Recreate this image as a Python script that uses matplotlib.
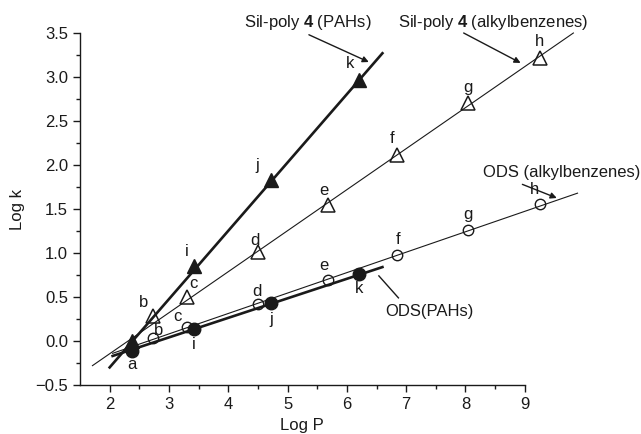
import matplotlib
matplotlib.use("Agg")
import matplotlib.pyplot as plt
from matplotlib.ticker import FuncFormatter

plt.rcParams['font.family'] = ['Liberation Sans', 'DejaVu Sans']
plt.rcParams['mathtext.fontset'] = 'custom'
plt.rcParams['mathtext.rm'] = 'Liberation Sans'
plt.rcParams['mathtext.bf'] = 'Liberation Sans:bold'

# ---- data ----
pah_labels = ['a', 'i', 'j', 'k']
pah_logp = [2.38, 3.42, 4.72, 6.21]
silpoly_pah_logk = [0.00, 0.85, 1.83, 2.97]
ods_pah_logk = [-0.11, 0.14, 0.43, 0.76]

alk_labels = ['a', 'b', 'c', 'd', 'e', 'f', 'g', 'h']
alk_logp = [2.38, 2.73, 3.30, 4.50, 5.68, 6.85, 8.05, 9.25]
silpoly_alk_logk = [0.00, 0.28, 0.50, 1.01, 1.55, 2.11, 2.70, 3.22]
ods_alk_logk = [-0.11, 0.03, 0.16, 0.42, 0.69, 0.98, 1.26, 1.56]

# regression lines (end points)
fit_silpoly_pah_x = [2.00, 6.60]
fit_silpoly_pah_y = [-0.30, 3.27]
fit_silpoly_alk_x = [1.71, 9.82]
fit_silpoly_alk_y = [-0.28, 3.50]
fit_ods_alk_x = [2.05, 9.89]
fit_ods_alk_y = [-0.14, 1.68]
fit_ods_pah_x = [2.05, 6.60]
fit_ods_pah_y = [-0.17, 0.84]

xticks = [2, 3, 4, 5, 6, 7, 8, 9]
yticks = [-0.5, 0.0, 0.5, 1.0, 1.5, 2.0, 2.5, 3.0, 3.5]

# ---- figure ----
W, H = 641, 434
fig = plt.figure(figsize=(W / 100, H / 100), dpi=100)
ax = fig.add_axes([80 / W, 49 / H, 561 / W, 385 / H])
ax.set_xlim(1.5, 1.5 + 561 / 59.3)
ax.set_ylim(-0.5, -0.5 + 385 / 88)

ink = '#1a1a1a'
ax.plot(fit_silpoly_alk_x, fit_silpoly_alk_y, color=ink, lw=0.8, zorder=2)
ax.plot(fit_ods_alk_x, fit_ods_alk_y, color=ink, lw=0.8, zorder=2)
ax.plot(fit_silpoly_pah_x, fit_silpoly_pah_y, color=ink, lw=1.9, zorder=2)
ax.plot(fit_ods_pah_x, fit_ods_pah_y, color=ink, lw=1.9, zorder=2)

ax.plot(alk_logp[1:], silpoly_alk_logk[1:], ls='none', marker='^', ms=10,
        mfc='none', mec=ink, mew=1.1, zorder=3)
ax.plot(alk_logp[1:], ods_alk_logk[1:], ls='none', marker='o', ms=7.5,
        mfc='none', mec=ink, mew=1.0, zorder=3)
ax.plot(pah_logp, silpoly_pah_logk, ls='none', marker='^', ms=10,
        mfc=ink, mec=ink, zorder=4)
ax.plot(pah_logp, ods_pah_logk, ls='none', marker='o', ms=9,
        mfc=ink, mec=ink, zorder=4)

# point labels (offsets in pixels)
fs = 12
pt = 0.72
off_sp_pah = {'i': (-7, 15), 'j': (-14, 14), 'k': (-9, 16)}
off_ods_pah = {'a': (0, -14), 'i': (0, -16), 'j': (0, -16), 'k': (0, -14)}
off_sp_alk = {'b': (-9, 14), 'c': (7, 13), 'd': (-3, 12), 'e': (-4, 14),
              'f': (-5, 17), 'g': (0, 16), 'h': (0, 16)}
off_ods_alk = {'b': (6, 8), 'c': (-9, 10), 'd': (-1, 13), 'e': (-4, 15),
               'f': (1, 15), 'g': (0, 16), 'h': (-5, 14)}


def label_points(labels, xs, ys, offs):
    for lab, x, y in zip(labels, xs, ys):
        if lab in offs:
            dx, dy = offs[lab]
            ax.annotate(lab, (x, y), xytext=(dx * pt, dy * pt),
                        textcoords='offset points', ha='center', va='center',
                        fontsize=fs, color=ink)


label_points(pah_labels, pah_logp, silpoly_pah_logk, off_sp_pah)
label_points(pah_labels, pah_logp, ods_pah_logk, off_ods_pah)
label_points(alk_labels, alk_logp, silpoly_alk_logk, off_sp_alk)
label_points(alk_labels, alk_logp, ods_alk_logk, off_ods_alk)

# series annotations
arrow = dict(arrowstyle='-|>', color=ink, lw=1.0, mutation_scale=9,
             shrinkA=0, shrinkB=0)
ax.text(4.26, 3.625, r'Sil-poly $\mathbf{4}$ (PAHs)', fontsize=fs,
        ha='left', va='center', color=ink)
ax.annotate('', xy=(6.37, 3.17), xytext=(5.36, 3.48), arrowprops=arrow)
ax.text(6.86, 3.625, r'Sil-poly $\mathbf{4}$ (alkylbenzenes)', fontsize=fs,
        ha='left', va='center', color=ink)
ax.annotate('', xy=(8.93, 3.16), xytext=(7.97, 3.50), arrowprops=arrow)
ax.text(8.30, 1.92, 'ODS (alkylbenzenes)', fontsize=fs,
        ha='left', va='center', color=ink)
ax.annotate('', xy=(9.54, 1.625), xytext=(8.96, 1.78), arrowprops=arrow)
ax.text(6.65, 0.33, 'ODS(PAHs)', fontsize=fs, ha='left', va='center',
        color=ink)
ax.plot([6.87, 6.54], [0.49, 0.74], color=ink, lw=1.0)

# axes styling
for s in ['top', 'right']:
    ax.spines[s].set_visible(False)
ax.spines['left'].set_bounds(-0.5, 3.5)
ax.spines['bottom'].set_bounds(1.5, 9)
for s in ['left', 'bottom']:
    ax.spines[s].set_color(ink)
    ax.spines[s].set_linewidth(1.0)

ax.set_xticks(xticks)
ax.set_xticks([x + 0.5 for x in xticks[:-1]], minor=True)
ax.set_yticks(yticks)
ax.set_yticks([y + 0.25 for y in yticks[:-1]], minor=True)
ax.yaxis.set_major_formatter(FuncFormatter(lambda v, p: f"{v:.1f}".replace('-', '\u2212')))
ax.tick_params(which='major', direction='out', length=5, width=1.0,
               labelsize=fs, colors=ink)
ax.tick_params(which='minor', direction='out', length=3, width=1.0, colors=ink)

ax.set_xlabel('Log P', fontsize=fs, color=ink)
ax.set_ylabel('Log k', fontsize=fs, color=ink)
x0, x1 = ax.get_xlim()
y0, y1 = ax.get_ylim()
ax.xaxis.set_label_coords((5.25 - x0) / (x1 - x0), -0.085)
ax.yaxis.set_label_coords(-0.098, (1.5 - y0) / (y1 - y0))

fig.savefig('out.png', dpi=100)
